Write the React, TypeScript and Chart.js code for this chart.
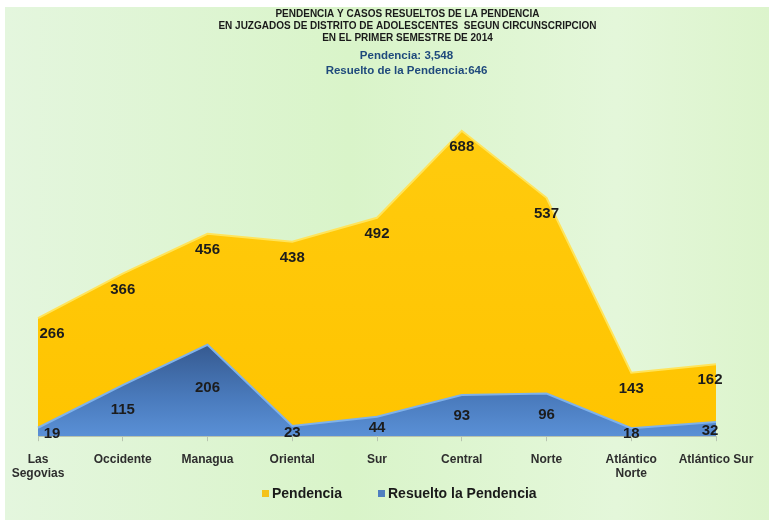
import React, { useEffect, useRef } from "react";
import { Chart, registerables } from "chart.js";

Chart.register(...registerables);

const categories: (string | string[])[] = [
  ["Las", "Segovias"],
  "Occidente",
  "Managua",
  "Oriental",
  "Sur",
  "Central",
  "Norte",
  ["Atlántico", "Norte"],
  "Atlántico Sur",
];
const pendencia = [266, 366, 456, 438, 492, 688, 537, 143, 162];
const resuelto = [19, 115, 206, 23, 44, 93, 96, 18, 32];
const titleLines = [
  "PENDENCIA Y CASOS RESUELTOS DE LA PENDENCIA",
  "EN JUZGADOS DE DISTRITO DE ADOLESCENTES  SEGUN CIRCUNSCRIPCION",
  "EN EL PRIMER SEMESTRE DE 2014",
];
const subtitleLines = ["Pendencia: 3,548", "Resuelto de la Pendencia:646"];
const seriesNames = ["Pendencia", "Resuelto la Pendencia"];
const seriesColors = ["#f4c21a", "#4f7fc0"];

const FONT = "'Liberation Sans', Arial, sans-serif";

const bgPlugin = {
  id: "bg",
  beforeDraw(chart: any) {
    const { ctx, width, height } = chart;
    ctx.save();
    ctx.fillStyle = "#ffffff";
    ctx.fillRect(0, 0, width, height);
    const g = ctx.createLinearGradient(5, 0, width, 0);
    g.addColorStop(0, "#e4f6de");
    g.addColorStop(0.45, "#d9f4c9");
    g.addColorStop(0.8, "#e4f7da");
    g.addColorStop(1, "#dcf4cc");
    ctx.fillStyle = g;
    ctx.fillRect(5, 7, width - 5, height - 7);
    ctx.restore();
  },
};

const textPlugin = {
  id: "texts",
  afterDraw(chart: any) {
    const { ctx, width } = chart;
    ctx.save();
    ctx.textAlign = "center";
    ctx.textBaseline = "middle";
    ctx.fillStyle = "#1a1a1a";
    ctx.font = `bold 10px ${FONT}`;
    titleLines.forEach((t, i) => ctx.fillText(t, width / 2 + 23, 14 + i * 12));
    ctx.fillStyle = "#1f4a7c";
    ctx.font = `bold 11.5px ${FONT}`;
    subtitleLines.forEach((t, i) => ctx.fillText(t, width / 2 + 22, 56 + i * 15));

    // legend
    ctx.textAlign = "left";
    ctx.font = `bold 14px ${FONT}`;
    const items = [
      { x: 262, color: seriesColors[0], text: seriesNames[0] },
      { x: 378, color: seriesColors[1], text: seriesNames[1] },
    ];
    items.forEach((it) => {
      ctx.fillStyle = it.color;
      ctx.fillRect(it.x, 490, 7, 7);
      ctx.fillStyle = "#1a1a1a";
      ctx.fillText(it.text, it.x + 10, 494);
    });
    ctx.restore();
  },
};

const labelPlugin = {
  id: "vlabels",
  afterDatasetsDraw(chart: any) {
    const { ctx, chartArea } = chart;
    const base = chart.scales.y.getPixelForValue(0);
    ctx.save();
    ctx.font = `bold 15px ${FONT}`;
    ctx.fillStyle = "#1c1c1c";
    ctx.textAlign = "center";
    ctx.textBaseline = "middle";
    chart.data.datasets.forEach((ds: any, di: number) => {
      const meta = chart.getDatasetMeta(di);
      meta.data.forEach((p: any, i: number) => {
        const x = Math.max(chartArea.left + 14, Math.min(chartArea.right - 6, p.x));
        let y;
        if (di === 0) y = p.y + 16;
        else y = p.y + (base - p.y) * 0.45 + 2;
        ctx.fillText(String(ds.data[i]), x, y);
      });
    });
    ctx.restore();
  },
};

export default function App() {
  const ref = useRef<HTMLCanvasElement>(null);
  useEffect(() => {
    document.body.style.margin = "0";
    const canvas = ref.current!;
    const chart = new Chart(canvas, {
      type: "line",
      data: {
        labels: categories,
        datasets: [
          {
            label: seriesNames[0],
            data: pendencia,
            fill: "origin",
            order: 2,
            borderColor: "#ffe45a",
            borderWidth: 2,
            pointRadius: 0,
            tension: 0,
            backgroundColor: (c: any) => {
              const a = c.chart.chartArea;
              if (!a) return "#ffc800";
              const g = c.chart.ctx.createLinearGradient(0, a.top, 0, a.bottom);
              g.addColorStop(0, "#ffcc10");
              g.addColorStop(1, "#ffc400");
              return g;
            },
          },
          {
            label: seriesNames[1],
            data: resuelto,
            fill: "origin",
            order: 1,
            borderColor: "#7fb2ea",
            borderWidth: 2,
            pointRadius: 0,
            tension: 0,
            backgroundColor: (c: any) => {
              const a = c.chart.chartArea;
              if (!a) return "#4f81bd";
              const y = c.chart.scales.y;
              const g = c.chart.ctx.createLinearGradient(0, y.getPixelForValue(210), 0, a.bottom);
              g.addColorStop(0, "#35598f");
              g.addColorStop(0.6, "#4a7bbd");
              g.addColorStop(1, "#5a90d6");
              return g;
            },
          },
        ],
      },
      options: {
        animation: false,
        responsive: false,
        layout: { padding: { top: 81, left: 38, right: 53, bottom: 28 } },
        scales: {
          x: {
            offset: false,
            grid: { display: true, drawOnChartArea: false, tickLength: 5, color: "#b8c4b0" },
            border: { display: true, color: "#b8c4b0" },
            ticks: {
              color: "#2e2e2e",
              font: { family: FONT, size: 12, weight: "bold" },
              maxRotation: 0,
              autoSkip: false,
              padding: 11,
            },
          },
          y: {
            display: false,
            min: 0,
            max: 800,
          },
        },
        plugins: {
          legend: { display: false },
          title: { display: false },
          tooltip: { enabled: false },
        },
      },
      plugins: [bgPlugin, labelPlugin, textPlugin],
    });
    return () => chart.destroy();
  }, []);
  return <canvas ref={ref} width={769} height={520} style={{ display: "block" }} />;
}
